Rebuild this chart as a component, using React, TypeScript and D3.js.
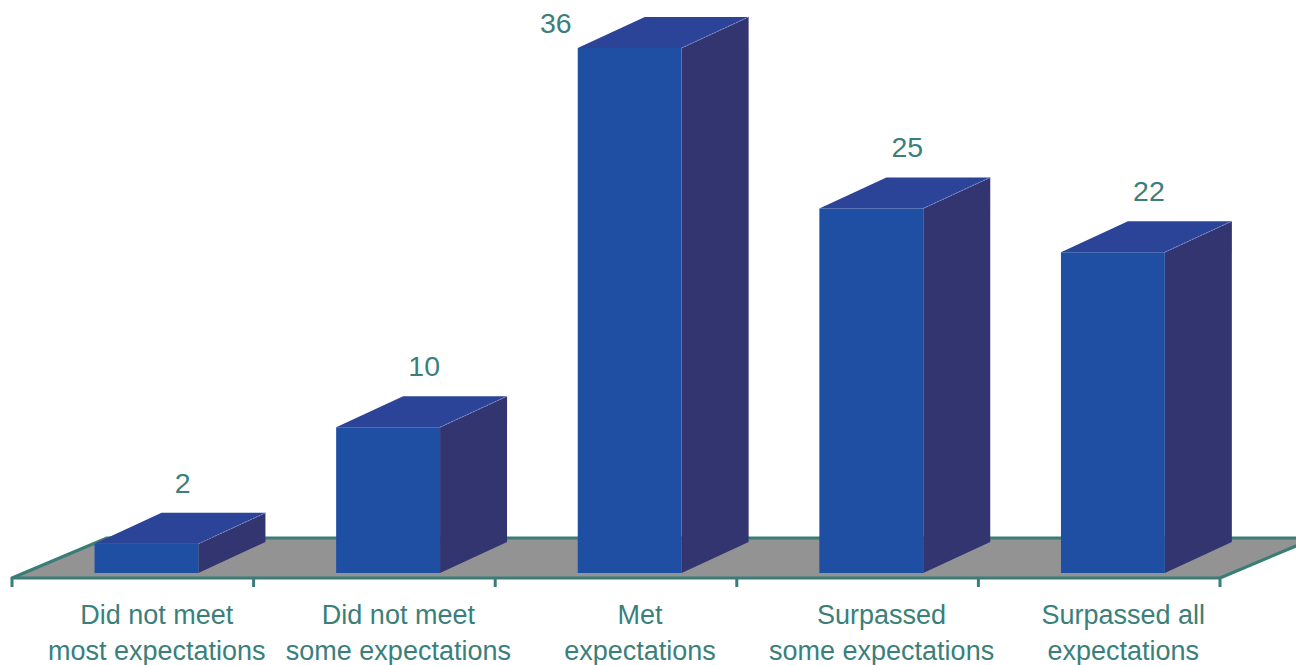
import React from "react";
import * as d3 from "d3";

const categories: string[][] = [
  ["Did not meet", "most expectations"],
  ["Did not meet", "some expectations"],
  ["Met", "expectations"],
  ["Surpassed", "some expectations"],
  ["Surpassed all", "expectations"],
];
const values: number[] = [2, 10, 36, 25, 22];
const yDomain: number[] = [0, 36];

const W = 1296;
const H = 665;

const colors = {
  front: "#1f4fa3",
  top: "#2b4497",
  side: "#333571",
  floor: "#939393",
  edge: "#3a7d78",
  text: "#3b7f7b",
};

export default function App() {
  const floorLeft = 12;
  const floorRight = 1220;
  const floorFrontY = 578;
  const floorDepth = { dx: 95, dy: -40 };
  const barShift = { dx: 12, dy: -5 };
  const barDepth = { dx: 67, dy: -31 };

  const x = d3
    .scaleBand<number>()
    .domain(d3.range(categories.length))
    .range([floorLeft, floorRight])
    .paddingInner(0)
    .paddingOuter(0);
  const step = x.step();
  const barW = step * 0.43;

  const baseY = floorFrontY + barShift.dy;
  const y = d3.scaleLinear().domain(yDomain).range([baseY, 48]);

  const floorPts: [number, number][] = [
    [floorLeft, floorFrontY],
    [floorRight, floorFrontY],
    [floorRight + floorDepth.dx, floorFrontY + floorDepth.dy],
    [floorLeft + floorDepth.dx, floorFrontY + floorDepth.dy],
  ];
  const line = d3.line();
  const poly = (pts: [number, number][]) => line(pts) + "Z";

  const tickXs = d3.range(categories.length + 1).map((i) => floorLeft + i * step);
  const valueFont = 28.5;
  const catFont = 27;

  return (
    <svg
      width={W}
      height={H}
      style={{ position: "absolute", left: 0, top: 0, background: "#fff" }}
      fontFamily="'Liberation Sans', Arial, sans-serif"
    >
      <path d={poly(floorPts)} fill={colors.floor} stroke={colors.edge} strokeWidth={3} strokeLinejoin="round" />
      {tickXs.map((tx, i) => (
        <line key={"t" + i} x1={tx} x2={tx} y1={floorFrontY} y2={floorFrontY + 9} stroke={colors.edge} strokeWidth={3} />
      ))}
      {values.map((v, i) => {
        const x0 = (x(i) as number) + step / 2 - barW / 2 + barShift.dx + 1.7;
        const x1 = x0 + barW;
        const yT = y(v);
        const yB = baseY;
        const front: [number, number][] = [
          [x0, yB],
          [x1, yB],
          [x1, yT],
          [x0, yT],
        ];
        const top: [number, number][] = [
          [x0, yT],
          [x1, yT],
          [x1 + barDepth.dx, yT + barDepth.dy],
          [x0 + barDepth.dx, yT + barDepth.dy],
        ];
        const side: [number, number][] = [
          [x1, yB],
          [x1 + barDepth.dx, yB + barDepth.dy],
          [x1 + barDepth.dx, yT + barDepth.dy],
          [x1, yT],
        ];
        let lx = x0 + 88;
        let ly = yT + barDepth.dy - 30;
        if (ly < valueFont * 0.8) {
          lx = x0 - 22;
          ly = valueFont * 0.8;
        }
        return (
          <g key={"b" + i}>
            <path d={poly(side)} fill={colors.side} />
            <path d={poly(top)} fill={colors.top} />
            <path d={poly(front)} fill={colors.front} />
            <line
              x1={x1}
              y1={yT}
              x2={x1 + barDepth.dx}
              y2={yT + barDepth.dy}
              stroke="#8f9bd8"
              strokeWidth={0.8}
              strokeDasharray="2,1"
            />
            <text
              x={lx}
              y={ly}
              textAnchor="middle"
              dominantBaseline="central"
              fontSize={valueFont}
              fill={colors.text}
            >
              {v}
            </text>
          </g>
        );
      })}
      {categories.map((lines, i) => {
        const cx = (x(i) as number) + step / 2 + 24;
        return (
          <text key={"c" + i} textAnchor="middle" fontSize={catFont} fill={colors.text}>
            {lines.map((l, j) => (
              <tspan key={j} x={cx} y={624 + j * 36}>
                {l}
              </tspan>
            ))}
          </text>
        );
      })}
    </svg>
  );
}
